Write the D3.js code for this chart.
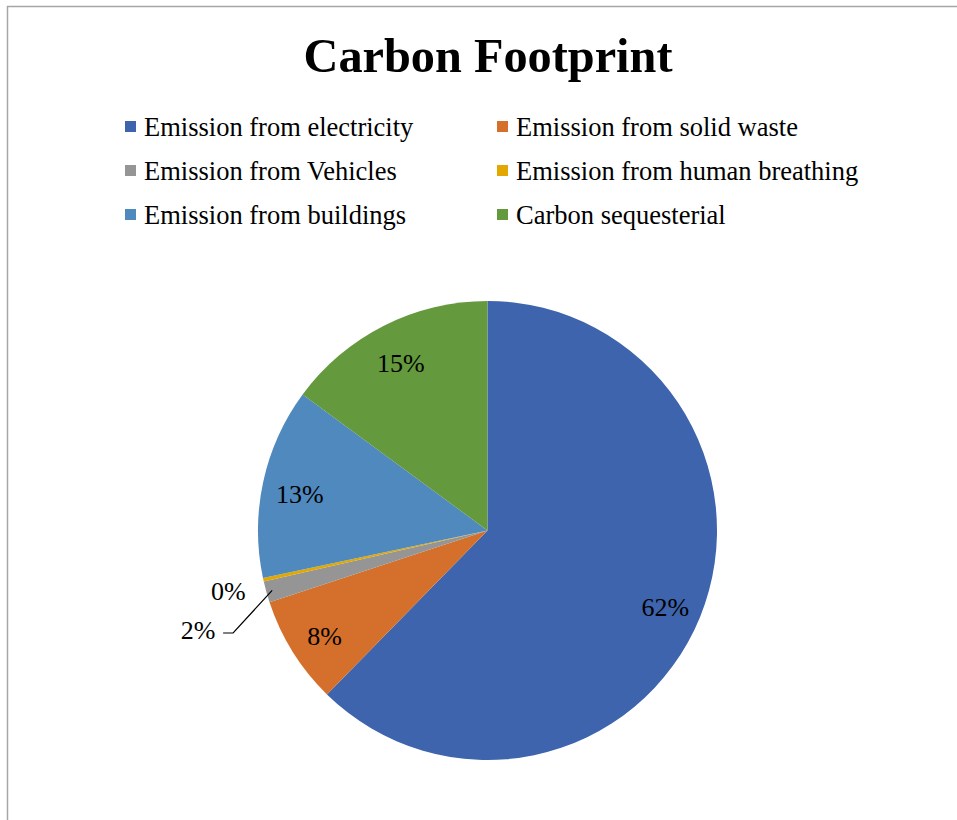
<!DOCTYPE html>
<html>
<head>
<meta charset="utf-8">
<script src="https://cdn.jsdelivr.net/npm/d3@7"></script>
<style>
  html, body { margin: 0; padding: 0; background: #fff; }
  svg { display: block; }
  text { font-family: "Liberation Serif", "Times New Roman", serif; fill: #000; }
</style>
</head>
<body>
<svg id="chart" width="957" height="820"></svg>
<script>
const title = "Carbon Footprint";
const categories = [
  "Emission from electricity",
  "Emission from solid waste",
  "Emission from Vehicles",
  "Emission from human breathing",
  "Emission from buildings",
  "Carbon sequesterial"
];
const values = [62.3, 7.6, 1.5, 0.25, 13.4, 14.9];
const labels = ["62%", "8%", "2%", "0%", "13%", "15%"];
const colors = ["#3D64AD", "#D4702B", "#959595", "#E2A800", "#4F89BD", "#64993D"];

const svg = d3.select("#chart");

// chart frame
svg.append("rect")
  .attr("x", 7.5).attr("y", 6.5)
  .attr("width", 1000).attr("height", 900)
  .attr("fill", "none").attr("stroke", "#a6a6a6").attr("stroke-width", 1.5);

// title
svg.append("text")
  .attr("x", 488).attr("y", 72)
  .attr("text-anchor", "middle")
  .attr("font-size", 48.3).attr("font-weight", "bold")
  .text(title);

// legend (2 columns, 3 rows)
const legendX = d3.scaleOrdinal().domain([0, 1]).range([125, 497]);
const legendY = d3.scaleLinear().domain([0, 1]).range([127, 171]);
const leg = svg.append("g").selectAll("g").data(categories).join("g")
  .attr("transform", (d, i) => `translate(${legendX(i % 2)},${legendY(Math.floor(i / 2))})`);
leg.append("rect")
  .attr("x", 0).attr("y", -6).attr("width", 11).attr("height", 11)
  .attr("fill", (d, i) => colors[i]);
leg.append("text")
  .attr("x", 19).attr("y", 0).attr("dy", "0.35em")
  .attr("font-size", 26.5)
  .text(d => d);

// pie
const cx = 487.5, cy = 530.5, r = 229.5;
const pie = d3.pie().sort(null).value(d => d);
const arcs = pie(values);
const arc = d3.arc().innerRadius(0).outerRadius(r);
const g = svg.append("g").attr("transform", `translate(${cx},${cy})`);
g.selectAll("path").data(arcs).join("path")
  .attr("d", arc)
  .attr("fill", (d, i) => colors[i]);

// labels
const inArc = d3.arc().innerRadius(192).outerRadius(192);
const smallArc0 = d3.arc().innerRadius(266).outerRadius(266);
const smallArc2 = d3.arc().innerRadius(306).outerRadius(306);

arcs.forEach((a, i) => {
  let pos, dy = "0.35em";
  if (values[i] < 1) {
    pos = smallArc0.centroid({startAngle: a.startAngle - 0.012, endAngle: a.endAngle - 0.012});
  } else if (values[i] < 3) {
    pos = smallArc2.centroid({startAngle: a.startAngle - 0.06, endAngle: a.endAngle - 0.06});
    // leader line
    const edge = d3.arc().innerRadius(r - 6).outerRadius(r - 6).centroid(a);
    const p0 = [pos[0] + 25, pos[1] + 3];
    const p1 = [pos[0] + 35, pos[1] + 3];
    g.append("path")
      .attr("d", d3.line()([p0, p1, edge]))
      .attr("fill", "none").attr("stroke", "#000").attr("stroke-width", 1.2);
  } else {
    pos = inArc.centroid(a);
    dy = "0.5em";
  }
  g.append("text")
    .attr("x", pos[0]).attr("y", pos[1])
    .attr("dy", dy)
    .attr("text-anchor", "middle")
    .attr("font-size", 26)
    .text(labels[i]);
});
</script>
</body>
</html>
